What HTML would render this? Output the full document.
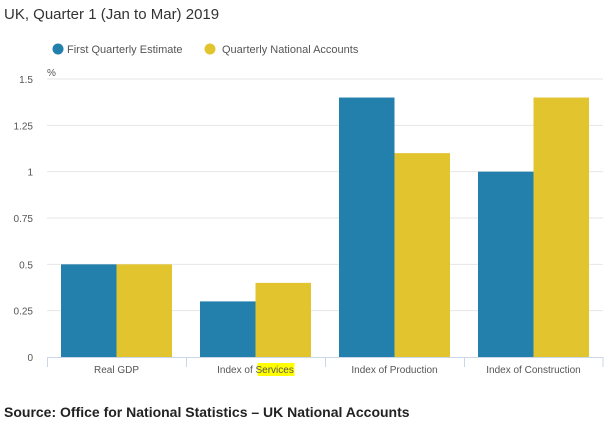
<!DOCTYPE html>
<html><head><meta charset="utf-8"><style>
body{margin:0;background:#fff;width:612px;height:423px;overflow:hidden;font-family:"Liberation Sans","DejaVu Sans",sans-serif}
</style></head><body>
<svg width="612" height="423" xmlns="http://www.w3.org/2000/svg">
<text x="4" y="19" font-size="15" fill="#333">UK, Quarter 1 (Jan to Mar) 2019</text>
<g>
<g><circle cx="58" cy="49" r="5.5" fill="#2380ad"/><text x="67" y="53" font-size="11" fill="#555">First Quarterly Estimate</text></g>
<g><circle cx="210" cy="49" r="5.5" fill="#e2c42f"/><text x="222" y="53" font-size="11" fill="#555">Quarterly National Accounts</text></g>
</g>
<text x="47" y="76" font-size="10" fill="#555">%</text>
<g id="grid"></g><g id="bars"></g><g id="xax"></g>
<text x="4" y="417" font-size="14" font-weight="bold" fill="#222">Source: Office for National Statistics – UK National Accounts</text>
</svg>
<script>
const categories=["Real GDP","Index of Services","Index of Production","Index of Construction"];
const firstEstimate=[0.5,0.3,1.4,1.0];
const qna=[0.5,0.4,1.1,1.4];
const yTicks=[0,0.25,0.5,0.75,1,1.25,1.5];
const yTickLabels=["0","0.25","0.5","0.75","1","1.25","1.5"];
const NS="http://www.w3.org/2000/svg";
const x0=47,x1=603,yBase=357,yTop=79,yMax=1.5;
const y=v=>yBase-(v/yMax)*(yBase-yTop);
const cw=(x1-x0)/categories.length;
function mk(t,a,p){const e=document.createElementNS(NS,t);for(const k in a)e.setAttribute(k,a[k]);p.appendChild(e);return e;}
const grid=document.getElementById('grid'),bars=document.getElementById('bars'),xax=document.getElementById('xax');
yTicks.forEach((v,i)=>{
 if(v>0){const l=mk('line',{x1:x0,x2:x1,y1:y(v),y2:y(v),stroke:'#e6e6e6','stroke-width':1},grid);
 
 }
 const t=mk('text',{x:33,y:y(v)+4,'font-size':10,fill:'#555','text-anchor':'end'},grid);t.textContent=yTickLabels[i];
 
 
});
const bw=55.5;
categories.forEach((c,i)=>{
 const cx=x0+i*cw+14;
 const b1=mk('rect',{x:cx,y:y(firstEstimate[i]),width:bw,height:yBase-y(firstEstimate[i]),fill:'#2380ad'},bars);
 
 
 const b2=mk('rect',{x:cx+bw,y:y(qna[i]),width:bw,height:yBase-y(qna[i]),fill:'#e2c42f'},bars);
 
 
 const tk=mk('line',{x1:x0+i*cw+0.5,x2:x0+i*cw+0.5,y1:yBase,y2:yBase+10,stroke:'#ccd6eb'},xax);
 
 
 const mid=x0+i*cw+cw/2;
 if(c==="Index of Services"){
  const hl=mk('rect',{x:mid+2,y:yBase+6,width:37,height:13,fill:'#ffff00'},xax);
  
  
 }
 const t=mk('text',{x:mid,y:yBase+16,'font-size':10,fill:'#555','text-anchor':'middle'},xax);t.textContent=c;
 
 
});
const last=mk('line',{x1:x1,x2:x1,y1:yBase,y2:yBase+10,stroke:'#ccd6eb'},xax);


const ax=mk('line',{x1:x0,x2:x1,y1:yBase+0.5,y2:yBase+0.5,stroke:'#ccd6eb'},xax);


</script>
</body></html>
